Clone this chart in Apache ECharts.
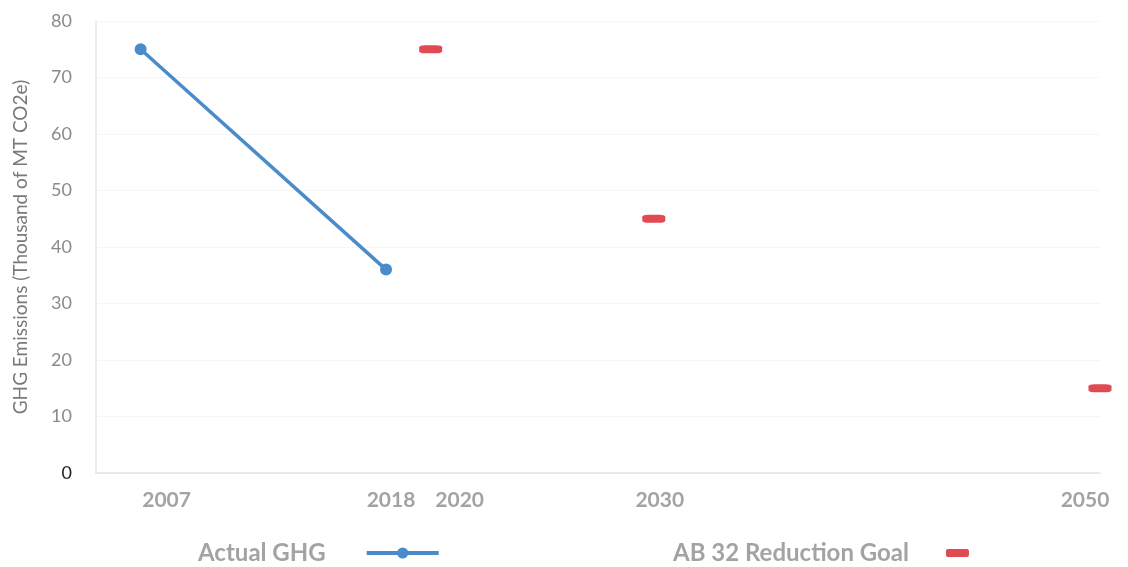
<!DOCTYPE html>
<html>
<head>
<meta charset="utf-8">
<script src="https://cdn.jsdelivr.net/npm/echarts@6/dist/echarts.min.js"></script>
<style>
  html, body { margin: 0; padding: 0; background: #fff; }
  #chart { width: 1128px; height: 567px; }
</style>
</head>
<body>
<div id="chart"></div>
<script>
const yearTicks = [2007, 2018, 2020, 2030, 2050]
const actualYears = [2007, 2018]
const actualValues = [75, 36]
const goalYears = [2020, 2030, 2050]
const goalValues = [75, 45, 15]

// small nudges so the year labels sit where the original put them
const labelShift = {2007: 26, 2018: 5, 2020: 29, 2030: 6, 2050: -15}

const chart = echarts.init(document.getElementById('chart'))

const rich = {}
yearTicks.forEach(y => {
  const s = labelShift[y] || 0
  rich['y' + y] = {
    padding: s >= 0 ? [0, 0, 0, 2 * s] : [0, -2 * s, 0, 0],
    fontFamily: 'Lato', fontWeight: 'bold', fontSize: 21, color: '#a3a3a3'
  }
})

chart.setOption({
  animation: false,
  grid: {left: 96, right: 28, top: 21, bottom: 94},
  legend: [
    {
      data: ['Actual GHG'], left: 193, top: 536, align: 'right',
      itemWidth: 72, itemHeight: 14,
      lineStyle: {width: 4},
      textStyle: {fontFamily: 'Lato', fontWeight: 'bold', fontSize: 24, color: '#a3a3a3', padding: [0, 36, 0, 0]}
    },
    {
      data: ['AB 32 Reduction Goal'], left: 668, top: 536, align: 'right',
      itemWidth: 23, itemHeight: 8, icon: 'roundRect',
      textStyle: {fontFamily: 'Lato', fontWeight: 'bold', fontSize: 24, color: '#a3a3a3', padding: [0, 32, 0, 0]}
    }
  ],
  xAxis: {
    type: 'value', min: 2005, max: 2050,
    splitLine: {show: false},
    axisLine: {lineStyle: {color: '#e3e3e3', width: 1.5}},
    axisTick: {show: false},
    axisLabel: {
      customValues: yearTicks,
      margin: 17,
      formatter: v => '{y' + v + '|' + v + '}',
      rich: rich
    }
  },
  yAxis: {
    type: 'value', min: 0, max: 80, interval: 10,
    name: 'GHG Emissions (Thousand of MT CO2e)',
    nameLocation: 'middle', nameGap: 66,
    nameTextStyle: {fontFamily: 'Lato', fontSize: 19, color: '#7a7a7a'},
    axisLine: {show: true, lineStyle: {color: '#e6e6e6', width: 1.5}},
    axisTick: {show: false},
    splitLine: {lineStyle: {color: '#f6f6f6'}},
    axisLabel: {
      margin: 24, fontFamily: 'Lato', fontSize: 18,
      color: v => (Number(v) === 0 ? '#222' : '#8a8a8a')
    }
  },
  series: [
    {
      name: 'Actual GHG', type: 'line',
      data: actualYears.map((y, i) => [y, actualValues[i]]),
      symbol: 'circle', symbolSize: 12,
      lineStyle: {color: '#4a8cca', width: 3.5},
      itemStyle: {color: '#4a8cca'}
    },
    {
      name: 'AB 32 Reduction Goal', type: 'scatter',
      data: goalYears.map((y, i) => [y, goalValues[i]]),
      symbol: 'roundRect', symbolSize: [23, 8],
      itemStyle: {color: '#e04a52', opacity: 1}
    }
  ]
})
</script>
</body>
</html>
